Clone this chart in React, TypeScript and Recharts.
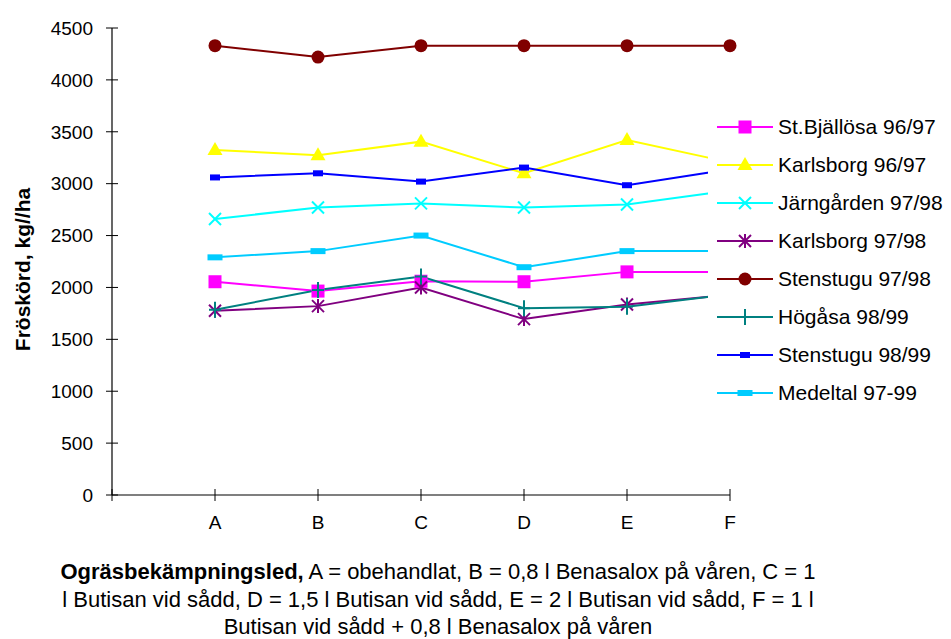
import React from 'react';
import { LineChart, Line, XAxis, YAxis, Legend } from 'recharts';

const categories = ['A', 'B', 'C', 'D', 'E', 'F'];
const yTicks = [0, 500, 1000, 1500, 2000, 2500, 3000, 3500, 4000, 4500];
const xTicks = [0, 1, 2, 3, 4, 5, 6];

const stBjallosa9697 = [2055, 1965, 2060, 2055, 2150, 2150];
const karlsborg9697 = [3325, 3275, 3405, 3100, 3420, 3205];
const jarngarden9798 = [2660, 2770, 2810, 2770, 2800, 2935];
const karlsborg9798 = [1775, 1820, 2000, 1695, 1835, 1930];
const stenstugu9798 = [4330, 4220, 4330, 4330, 4330, 4330];
const hogasa9899 = [1785, 1975, 2105, 1800, 1815, 1935];
const stenstugu9899 = [3060, 3100, 3020, 3155, 2985, 3140];
const medeltal9799 = [2290, 2350, 2500, 2195, 2350, 2350];

type Kind = 'square' | 'triangle' | 'x' | 'star' | 'circle' | 'plus' | 'rect' | 'dash';

const series: { key: string; name: string; color: string; kind: Kind; values: number[] }[] = [
  { key: 's1', name: 'St.Bjällösa 96/97', color: '#FF00FF', kind: 'square', values: stBjallosa9697 },
  { key: 's2', name: 'Karlsborg 96/97', color: '#FFFF00', kind: 'triangle', values: karlsborg9697 },
  { key: 's3', name: 'Järngården 97/98', color: '#00FFFF', kind: 'x', values: jarngarden9798 },
  { key: 's4', name: 'Karlsborg 97/98', color: '#800080', kind: 'star', values: karlsborg9798 },
  { key: 's5', name: 'Stenstugu 97/98', color: '#800000', kind: 'circle', values: stenstugu9798 },
  { key: 's6', name: 'Högåsa 98/99', color: '#008080', kind: 'plus', values: hogasa9899 },
  { key: 's7', name: 'Stenstugu 98/99', color: '#0000FF', kind: 'rect', values: stenstugu9899 },
  { key: 's8', name: 'Medeltal 97-99', color: '#00CCFF', kind: 'dash', values: medeltal9799 },
];

const data = categories.map((cat, i) => {
  const row: Record<string, number | string> = { pos: i + 1, cat };
  series.forEach((s) => {
    row[s.key] = s.values[i];
  });
  return row;
});

const FONT = '"Liberation Sans", Arial, sans-serif';

function Marker({ cx, cy, kind, color }: { cx: number; cy: number; kind: Kind; color: string }) {
  switch (kind) {
    case 'square':
      return <rect x={cx - 6.5} y={cy - 6.5} width={13} height={13} fill={color} />;
    case 'triangle':
      return <polygon points={`${cx},${cy - 8} ${cx + 7.5},${cy + 5} ${cx - 7.5},${cy + 5}`} fill={color} />;
    case 'x':
      return (
        <g stroke={color} strokeWidth={2}>
          <line x1={cx - 6} y1={cy - 6} x2={cx + 6} y2={cy + 6} />
          <line x1={cx - 6} y1={cy + 6} x2={cx + 6} y2={cy - 6} />
        </g>
      );
    case 'star':
      return (
        <g stroke={color} strokeWidth={2}>
          <line x1={cx - 6} y1={cy - 6} x2={cx + 6} y2={cy + 6} />
          <line x1={cx - 6} y1={cy + 6} x2={cx + 6} y2={cy - 6} />
          <line x1={cx} y1={cy - 7} x2={cx} y2={cy + 7} />
        </g>
      );
    case 'circle':
      return <circle cx={cx} cy={cy} r={6.5} fill={color} />;
    case 'plus':
      return (
        <g stroke={color} strokeWidth={2}>
          <line x1={cx} y1={cy - 8} x2={cx} y2={cy + 8} />
          <line x1={cx - 6} y1={cy} x2={cx + 6} y2={cy} />
        </g>
      );
    case 'rect':
      return <rect x={cx - 5} y={cy - 3} width={10} height={6} fill={color} />;
    case 'dash':
      return <rect x={cx - 7.5} y={cy - 3} width={15} height={6} fill={color} />;
    default:
      return null;
  }
}

function LegendBox() {
  return (
    <div style={{ background: '#fff', fontFamily: FONT, fontSize: 21, color: '#000' }}>
      {series.map((s) => (
        <div key={s.key} style={{ height: 38, display: 'flex', alignItems: 'center' }}>
          <svg width={61} height={20} style={{ marginLeft: 9, flex: 'none' }}>
            <line x1={0} y1={10} x2={56} y2={10} stroke={s.color} strokeWidth={2} />
            <Marker cx={28} cy={10} kind={s.kind} color={s.color} />
          </svg>
          <span style={{ whiteSpace: 'nowrap' }}>{s.name}</span>
        </div>
      ))}
    </div>
  );
}

function Caption({ viewBox }: any) {
  const cx = viewBox.x + viewBox.width / 2 + 17;
  const y0 = viewBox.y;
  return (
    <g fontFamily={FONT} fontSize={22} fill="#000">
      <text x={cx} y={y0 + 84} textAnchor="middle">
        <tspan fontWeight="bold">Ogräsbekämpningsled,</tspan> A = obehandlat, B = 0,8 l Benasalox på våren, C = 1
      </text>
      <text x={cx} y={y0 + 112} textAnchor="middle">
        l Butisan vid sådd, D = 1,5 l Butisan vid sådd, E = 2 l Butisan vid sådd, F = 1 l
      </text>
      <text x={cx} y={y0 + 139} textAnchor="middle">
        Butisan vid sådd + 0,8 l Benasalox på våren
      </text>
    </g>
  );
}

function YTitle({ viewBox }: any) {
  const x = viewBox.x + 22;
  const y = viewBox.y + viewBox.height / 2 + 8;
  return (
    <text
      x={x}
      y={y}
      transform={`rotate(-90, ${x}, ${y})`}
      textAnchor="middle"
      dominantBaseline="central"
      fontFamily={FONT}
      fontSize={21}
      fontWeight="bold"
      fill="#000"
    >
      Fröskörd, kg//ha
    </text>
  );
}

export default function App() {
  return (
    <div style={{ position: 'absolute', left: 0, top: 0, width: 951, height: 639, background: '#fff' }}>
      <LineChart width={951} height={639} data={data} margin={{ top: 28, right: 221, bottom: 104, left: 0 }}>
        <XAxis
          dataKey="pos"
          type="number"
          domain={[0, 6]}
          ticks={xTicks}
          tickFormatter={(v: number) => categories[v - 1] ?? ''}
          axisLine={{ stroke: '#000', strokeWidth: 1.2 }}
          tickLine={{ stroke: '#000', transform: 'translate(0,-6)' }}
          tickSize={12}
          tickMargin={9}
          height={40}
          tick={{ fill: '#000', fontSize: 19, fontFamily: FONT }}
          label={{ content: (p: any) => <Caption viewBox={p.viewBox} /> }}
        />
        <YAxis
          domain={[0, 4500]}
          ticks={yTicks}
          width={112}
          axisLine={{ stroke: '#000', strokeWidth: 1.2 }}
          tickLine={{ stroke: '#000', transform: 'translate(6,0)' }}
          tickSize={12}
          tickMargin={7}
          tick={{ fill: '#000', fontSize: 19, fontFamily: FONT }}
          label={{ content: (p: any) => <YTitle viewBox={p.viewBox} /> }}
        />
        {series.map((s) => (
          <Line
            key={s.key}
            dataKey={s.key}
            name={s.name}
            stroke={s.color}
            strokeWidth={2}
            type="linear"
            isAnimationActive={false}
            dot={(p: any) => <Marker key={`${s.key}-${p.index}`} cx={p.cx} cy={p.cy} kind={s.kind} color={s.color} />}
            activeDot={false}
          />
        ))}
        <Legend
          layout="vertical"
          align="center"
          verticalAlign="middle"
          content={() => <LegendBox />}
          wrapperStyle={{ position: 'absolute', left: 708, top: 108, width: 243, height: 304, margin: 0 }}
        />
      </LineChart>
    </div>
  );
}
